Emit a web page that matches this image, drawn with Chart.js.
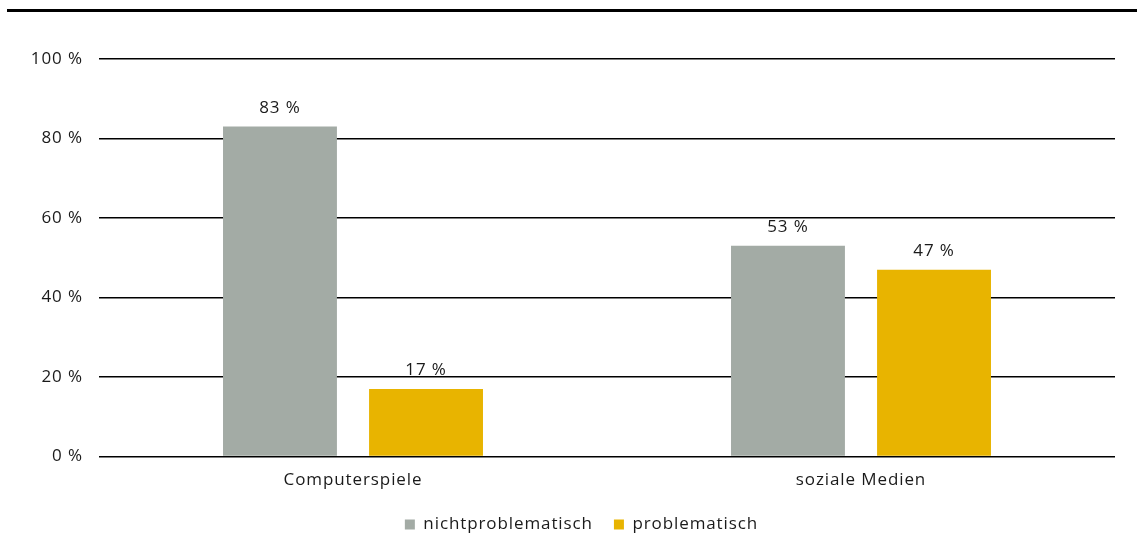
<!DOCTYPE html>
<html>
<head>
<meta charset="utf-8">
<script src="https://cdn.jsdelivr.net/npm/chart.js@4/dist/chart.umd.min.js"></script>
<style>
    html, body { margin: 0; padding: 0; background: #fff; }
    #wrap { position: relative; width: 1137px; height: 559px; }
    #topline { position: absolute; left: 7px; right: 0; top: 9px; border-top: 3px solid #000; }
    #chart { position: absolute; left: 0; top: 0; }
</style>
</head>
<body>
<div id="wrap">
    <div id="topline"></div>
    <canvas id="chart" width="1137" height="559"></canvas>
</div>
<script>
const categories = ['Computerspiele', 'soziale Medien'];
const seriesNames = ['nichtproblematisch', 'problematisch'];
const nichtproblematisch = [83, 53];
const problematisch = [17, 47];
const tickValues = [0, 20, 40, 60, 80, 100];

const fontFamily = "'Open Sans', 'DejaVu Sans', sans-serif";
const fontSize = 17;

// wider letter spacing like the original typeface
const spacing = {
    id: 'spacing',
    beforeUpdate(chart) { chart.ctx.letterSpacing = '0.9px'; },
    beforeDraw(chart) { chart.ctx.letterSpacing = '0.9px'; }
};

// legend sits a bit right of the canvas centre in the original
const legendShift = {
    id: 'legendShift',
    afterLayout(chart) {
        chart.legend.left += 24;
        chart.legend.right += 24;
    }
};

// Values above each bar
const valueLabels = {
    id: 'valueLabels',
    afterDatasetsDraw(chart) {
        const ctx = chart.ctx;
        ctx.save();
        ctx.font = fontSize + 'px ' + fontFamily;
        ctx.fillStyle = '#1a1a1a';
        ctx.textAlign = 'center';
        ctx.textBaseline = 'bottom';
        chart.data.datasets.forEach((ds, i) => {
            chart.getDatasetMeta(i).data.forEach((bar, j) => {
                ctx.fillText(ds.data[j] + ' %', bar.x, bar.y - 10);
            });
        });
        ctx.restore();
    }
};

new Chart(document.getElementById('chart'), {
    type: 'bar',
    data: {
        labels: categories,
        datasets: [
            {
                label: seriesNames[0],
                data: nichtproblematisch,
                backgroundColor: '#a3aba5',
                categoryPercentage: 0.575,
                barPercentage: 0.78
            },
            {
                label: seriesNames[1],
                data: problematisch,
                backgroundColor: '#e8b400',
                categoryPercentage: 0.575,
                barPercentage: 0.78
            }
        ]
    },
    options: {
        responsive: false,
        animation: false,
        layout: { padding: { top: 59, right: 22, bottom: 16, left: 0 } },
        plugins: {
            legend: {
                position: 'bottom',
                labels: {
                    boxWidth: 10,
                    boxHeight: 10,
                    color: '#1a1a1a',
                    font: { family: fontFamily, size: fontSize },
                    padding: 21
                }
            },
            tooltip: { enabled: false }
        },
        scales: {
            x: {
                grid: { display: false },
                border: { display: false },
                ticks: {
                    color: '#1a1a1a',
                    font: { family: fontFamily, size: fontSize },
                    padding: 5
                }
            },
            y: {
                min: 0,
                max: 100,
                afterFit(scale) { scale.width = 99; },
                afterBuildTicks(scale) { scale.ticks = tickValues.map(v => ({ value: v })); },
                grid: { color: '#000', lineWidth: 1.5, drawTicks: false },
                border: { display: false },
                ticks: {
                    color: '#1a1a1a',
                    font: { family: fontFamily, size: fontSize },
                    padding: 16,
                    callback: v => v + ' %'
                }
            }
        }
    },
    plugins: [spacing, legendShift, valueLabels]
});
</script>
</body>
</html>
